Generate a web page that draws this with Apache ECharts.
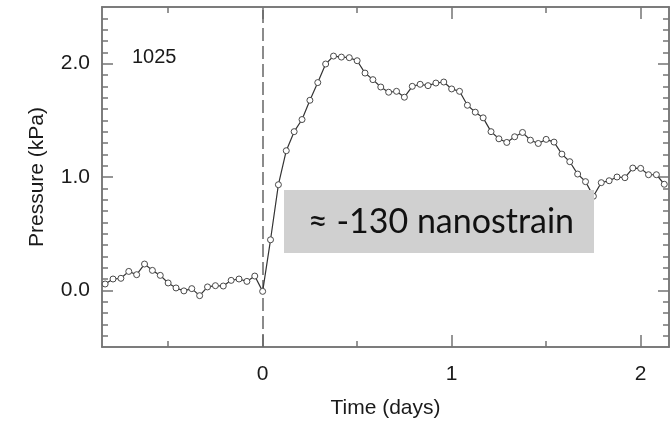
<!DOCTYPE html>
<html>
<head>
<meta charset="utf-8">
<script src="https://cdn.jsdelivr.net/npm/echarts@6/dist/echarts.min.js"></script>
<style>
html,body{margin:0;padding:0;background:#fff;}
#chart{width:670px;height:425px;}
</style>
</head>
<body>
<div id="chart"></div>
<script>
// Sample times (hours relative to event)
var hours = [-20,-19,-18,-17,-16,-15,-14,-13,-12,-11,-10,-9,-8,-7,-6,-5,-4,-3,-2,-1,
  0,1,2,3,4,5,6,7,8,9,10,11,12,13,14,15,16,17,18,19,20,21,22,23,24,25,26,27,28,29,30,
  31,32,33,34,35,36,37,38,39,40,41,42,43,44,45,46,47,48,49,50,51];
// Pressure (kPa)
var pressure = [0.056,0.100,0.106,0.167,0.138,0.232,0.176,0.132,0.065,0.021,-0.005,0.015,-0.047,0.030,0.041,0.038,0.088,0.100,0.079,0.126,
  -0.009,0.446,0.932,1.232,1.400,1.507,1.677,1.833,1.997,2.067,2.058,2.053,2.026,1.917,1.859,1.794,1.748,1.756,1.704,1.800,1.818,
  1.806,1.829,1.838,1.777,1.756,1.633,1.572,1.522,1.400,1.337,1.305,1.355,1.393,1.325,1.296,1.332,1.308,1.202,1.135,1.026,0.959,
  0.830,0.950,0.967,1.000,0.994,1.079,1.076,1.020,1.020,0.936];

var xMajorTicks = [0, 1, 2];
var xMinorTicks = [-0.5, 0.5, 1.5];
var yMajorTicks = [0, 1, 2];
var yMinorTicks = [-0.4,-0.3,-0.2,-0.1,0.1,0.2,0.3,0.4,0.5,0.6,0.7,0.8,0.9,
  1.1,1.2,1.3,1.4,1.5,1.6,1.7,1.8,1.9,2.1,2.2,2.3,2.4];
var stationLabel = '1025';
var boxLabel = '\u2248 -130 nanostrain';
var xName = 'Time (days)';
var yName = 'Pressure (kPa)';

var seriesData = hours.map(function (h, i) { return [h / 24, pressure[i]]; });

var axisColor = '#747474';
var font = 'Liberation Sans';

function xAx(pos, ticks, len, labels, extra) {
  var a = {
    type: 'value', min: -0.85, max: 2.15, position: pos, gridIndex: 0,
    axisLine: { show: true, onZero: false, lineStyle: { color: axisColor, width: 1.5 } },
    axisTick: { show: true, inside: true, length: len, customValues: ticks, lineStyle: { color: axisColor, width: 1.5 } },
    axisLabel: labels ? { show: true, customValues: ticks, fontSize: 21, margin: 17, color: '#1a1a1a', fontFamily: font,
      formatter: function (v) { return String(v); } } : { show: false },
    splitLine: { show: false }
  };
  return Object.assign(a, extra || {});
}
function yAx(pos, ticks, len, labels, extra) {
  var a = {
    type: 'value', min: -0.5, max: 2.5, position: pos, gridIndex: 0,
    axisLine: { show: true, onZero: false, lineStyle: { color: axisColor, width: 1.5 } },
    axisTick: { show: true, inside: true, length: len, customValues: ticks, lineStyle: { color: axisColor, width: 1.5 } },
    axisLabel: labels ? { show: true, customValues: ticks, fontSize: 21, margin: 12, color: '#1a1a1a', fontFamily: font,
      formatter: function (v) { return v.toFixed(1); } } : { show: false },
    splitLine: { show: false }
  };
  return Object.assign(a, extra || {});
}

var chart = echarts.init(document.getElementById('chart'), null, { renderer: 'canvas' });
chart.setOption({
  animation: false,
  backgroundColor: '#ffffff',
  textStyle: { fontFamily: font },
  grid: { left: 102, right: 1, top: 7, bottom: 78, containLabel: false },
  xAxis: [
    xAx('bottom', xMajorTicks, 12, true, {
      name: xName, nameLocation: 'middle', nameGap: 51,
      nameTextStyle: { fontSize: 21, color: '#1a1a1a', fontFamily: font }
    }),
    xAx('bottom', xMinorTicks, 6, false),
    xAx('top', xMajorTicks, 12, false),
    xAx('top', xMinorTicks, 6, false)
  ],
  yAxis: [
    yAx('left', yMajorTicks, 11, true, {
      name: yName, nameLocation: 'middle', nameGap: 54,
      nameTextStyle: { fontSize: 21, color: '#1a1a1a', fontFamily: font }
    }),
    yAx('left', yMinorTicks, 6, false),
    yAx('right', yMajorTicks, 11, false),
    yAx('right', yMinorTicks, 6, false)
  ],
  series: [{
    type: 'line',
    xAxisIndex: 0, yAxisIndex: 0,
    data: seriesData,
    symbol: 'circle', symbolSize: 6, showAllSymbol: true,
    lineStyle: { color: '#333333', width: 1.2 },
    itemStyle: { color: '#ffffff', borderColor: '#4a4a4a', borderWidth: 1 },
    z: 3,
    markLine: {
      silent: true, symbol: 'none', label: { show: false },
      lineStyle: { color: '#666666', width: 1.5, type: [13, 5] },
      data: [{ xAxis: 0 }],
      z: 2
    }
  }],
  graphic: [
    { type: 'text', left: 132, top: 47, z: 50,
      style: { text: stationLabel, font: '20px "Liberation Sans"', fill: '#1a1a1a' } },
    { type: 'rect', shape: { x: 284, y: 190, width: 310, height: 63 }, z: 100,
      style: { fill: '#d0d0d0' } },
    { type: 'text', x: 441, y: 222, z: 101,
      style: { text: boxLabel, font: '34px Lato', fill: '#111111', align: 'center', verticalAlign: 'middle' } }
  ]
});
</script>
</body>
</html>
